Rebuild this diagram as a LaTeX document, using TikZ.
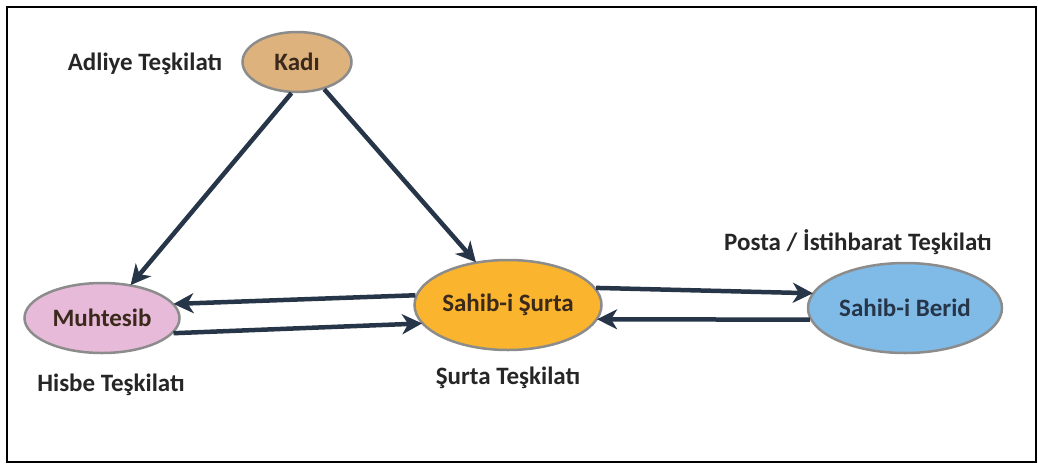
\documentclass[tikz,border=0pt]{standalone}
\usepackage{fontspec}
\setmainfont{Carlito}
\usetikzlibrary{shapes.geometric,arrows.meta}
\definecolor{arr}{HTML}{263548}
\definecolor{rim}{HTML}{8C8C8C}
\definecolor{kadifill}{HTML}{DDB27C}
\definecolor{muhfill}{HTML}{E7BAD9}
\definecolor{surfill}{HTML}{FBB42E}
\definecolor{berfill}{HTML}{80BBE8}
\definecolor{txt}{HTML}{3B2A1C}
\tikzset{
  org/.style={ellipse, draw=rim, line width=2.5pt, inner sep=0pt, font=\bfseries\fontsize{25}{28}\selectfont, text=txt},
  lbl/.style={font=\bfseries\fontsize{25}{28}\selectfont, text=black!85},
  link/.style={draw=arr, line width=4.5pt, -{Stealth[length=20pt,width=20pt,inset=6pt]}, shorten >=-1pt}
}
\begin{document}
\begin{tikzpicture}[x=1pt,y=-1pt]
\useasboundingbox (0,0) rectangle (1038,466);
\draw[line width=2.5pt, black] (7,7) rectangle (1036,462);
\node[org, fill=kadifill, minimum width=109pt, minimum height=60pt] (kadi) at (297,62) {Kad\i};
\node[org, fill=muhfill, minimum width=155pt, minimum height=70pt] (muh) at (102,318) {Muhtesib};
\node[org, fill=surfill, minimum width=187pt, minimum height=90pt] (sur) at (508,305) {Sahib-i Şurta};
\node[org, fill=berfill, minimum width=194pt, minimum height=90pt, text=arr] (ber) at (905,308) {Sahib-i Berid};
\node[lbl] (l1) at (145,64) {Adliye Teşkilatı};
\node[lbl] (l2) at (111,385) {Hisbe Teşkilatı};
\node[lbl] (l3) at (508,378) {Şurta Teşkilatı};
\node[lbl] (l4) at (858,242) {Posta / İstihbarat Teşkilatı};
\draw[link] (kadi.-100) -- (muh.49);
\draw[link] (kadi.-45) -- (sur.127);
\draw[link] (sur.174) -- (muh.11);
\draw[link] (muh.-12) -- (sur.192);
\draw[link] (sur.11) -- (ber.171);
\draw[link] (ber.187) -- (sur.-9);
\end{tikzpicture}
\end{document}
